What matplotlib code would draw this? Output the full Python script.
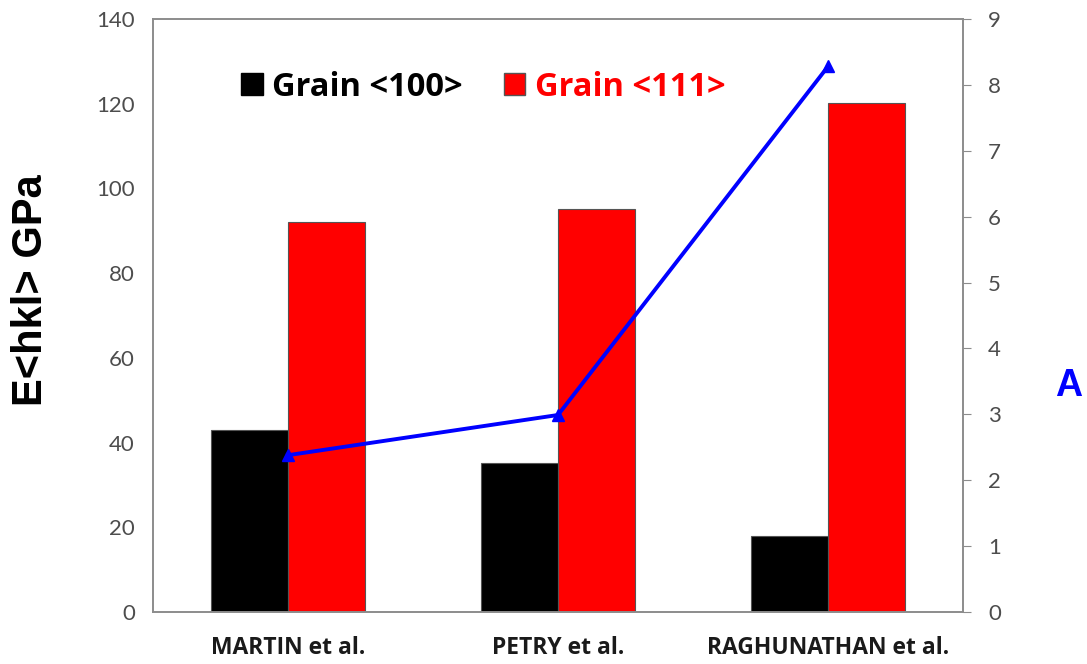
import matplotlib
matplotlib.use("Agg")
import matplotlib.pyplot as plt
import numpy as np
from matplotlib.patches import Patch

categories = ["MARTIN et al.", "PETRY et al.", "RAGHUNATHAN et al."]
grain100 = [43, 35.2, 17.9]
grain111 = [92, 95.1, 120.2]
A_values = [2.38, 2.99, 8.28]
left_ticks = [0, 20, 40, 60, 80, 100, 120, 140]
right_ticks = [0, 1, 2, 3, 4, 5, 6, 7, 8, 9]

plt.rcParams['font.family'] = ['Lato', 'DejaVu Sans']
BOLD = ['Open Sans', 'DejaVu Sans']

fig = plt.figure(figsize=(10.87, 6.64), dpi=100)
ax = fig.add_axes([153/1087, 1-612/664, 810/1087, 593/664])

x = np.arange(len(categories))
w = 0.285
ax.bar(x - w/2, grain100, width=w, color='black', edgecolor='#555555', linewidth=0.8, zorder=2)
ax.bar(x + w/2, grain111, width=w, color='#ff0000', edgecolor='#555555', linewidth=0.8, zorder=2)
ax.set_xlim(-0.5, 2.5)
ax.set_ylim(0, 140)
ax.set_yticks(left_ticks)
ax.set_xticks(x)
ax.set_xticklabels(categories, fontsize=16.5, fontweight='bold', color='#1a1a1a', family=BOLD)
ax.tick_params(axis='x', length=0, pad=17)
ax.tick_params(axis='y', length=0, pad=13, labelsize=16, labelcolor='#4d4d4d')
for s in ax.spines.values():
    s.set_color('#8c8c8c')
    s.set_linewidth(1.2)
fig.text(31/1087, 1-290/664, "E<hkl> GPa", fontsize=30, fontweight='bold', rotation=90,
         ha='center', va='center', family=['Liberation Sans', 'DejaVu Sans'])

ax2 = ax.twinx()
ax2.plot(x, A_values, color='#0000ff', linewidth=2.8, marker='^', markersize=8, zorder=3)
ax2.set_ylim(0, 9)
ax2.set_yticks(right_ticks)
ax2.tick_params(axis='y', direction='out', length=6, color='#8c8c8c', pad=12, labelsize=16, labelcolor='#4d4d4d')
for s in ax2.spines.values():
    s.set_color('#8c8c8c')
    s.set_linewidth(1.2)
fig.text(1069/1087, 1-386/664, "A", color='#0000ff', fontsize=27, fontweight='bold',
         ha='center', va='center', family=['Liberation Sans', 'DejaVu Sans'])

handles = [Patch(facecolor='black', edgecolor='black'), Patch(facecolor='#ff0000', edgecolor='#555555')]
leg = ax.legend(handles, ["Grain <100>", "Grain <111>"], loc='center left',
                bbox_to_anchor=((241-153)/810, (612-87)/593), ncol=2, frameon=False,
                prop={'size': 23.5, 'weight': 'bold', 'family': BOLD},
                handlelength=0.66, handleheight=0.66,
                handletextpad=0.3, columnspacing=1.25, borderpad=0, borderaxespad=0)
leg.get_texts()[1].set_color('#ff0000')

fig.savefig("out.png", dpi=100)
